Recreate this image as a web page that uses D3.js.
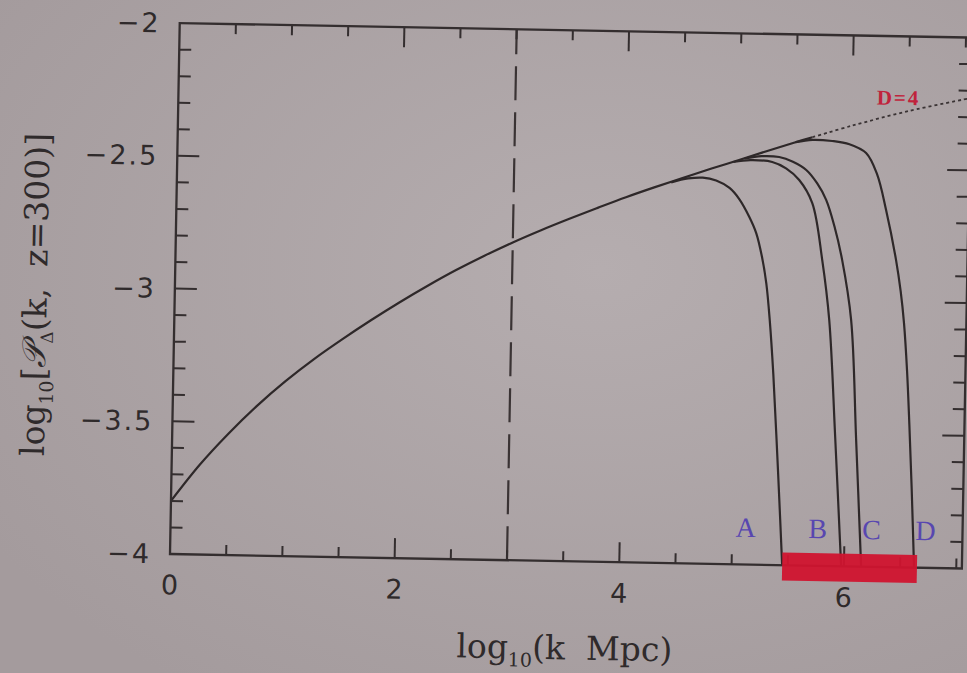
<!DOCTYPE html>
<html>
<head>
<meta charset="utf-8">
<script src="https://cdn.jsdelivr.net/npm/d3@7"></script>
<style>
  html, body { margin: 0; padding: 0; background: #aca3a5; overflow: hidden; }
  svg { display: block; }
  .frame      { fill: none; stroke: #342e2f; stroke-width: 2.3; }
  .tick       { stroke: #342e2f; stroke-width: 2; }
  .curve      { fill: none; stroke: #2e2829; stroke-width: 2.2; }
  .dotted     { fill: none; stroke: #3a3334; stroke-width: 1.8; stroke-dasharray: 3 3; }
  .dashed     { fill: none; stroke: #3a3334; stroke-width: 2.2; stroke-dasharray: 34 12; }
  .tick-label { font-family: "DejaVu Sans", sans-serif; font-size: 27px; fill: #2f2a2b; letter-spacing: 2px; }
  .axis-title { font-family: "DejaVu Serif", serif; font-size: 33px; fill: #2f2a2b; white-space: pre; }
  .letter     { font-family: "Liberation Serif", serif; font-size: 28px; fill: #5847b0; }
  .note       { font-family: "Liberation Serif", serif; font-size: 21px; font-weight: bold; fill: #c0233c; letter-spacing: 2px; }
</style>
</head>
<body>
<div id="plot"></div>
<script>
const CANVAS_WIDTH  = 967;
const CANVAS_HEIGHT = 673;

const LEFT    = 170;
const BOTTOM  = 554;
const PLOT_W  = 792;
const PLOT_H  = 531;
const TILT    = 1.05;   // the page in the photo is turned a little

const X_DOMAIN = [0, 7.05];
const Y_DOMAIN = [-4, -2];
const X_LABELS = [0, 2, 4, 6];
const Y_LABELS = [-4, -3.5, -3, -2.5, -2];

// common envelope (solid), then its continuation (dotted)
const ENV_X = [0, 0.25, 0.5, 0.75, 1.0, 1.25, 1.5, 1.75, 2.0, 2.25, 2.5, 2.75, 3.0,
               3.25, 3.5, 3.75, 4.0, 4.25, 4.5, 4.75, 5.0, 5.25, 5.5, 5.65];
const ENV_Y = [-3.800, -3.662, -3.543, -3.436, -3.341, -3.256, -3.179, -3.106, -3.037,
               -2.972, -2.911, -2.855, -2.803, -2.755, -2.710, -2.667, -2.625, -2.586,
               -2.549, -2.512, -2.477, -2.441, -2.406, -2.386];
const DOT_X = [5.65, 6.0, 6.5, 7.05];
const DOT_Y = [-2.386, -2.340, -2.281, -2.228];

// cut-off branches
const A_X = [4.40, 4.55, 4.68, 4.80, 4.92, 5.01, 5.10, 5.165, 5.22, 5.263, 5.30, 5.34, 5.377, 5.415, 5.45];
const A_Y = [-2.566, -2.550, -2.546, -2.556, -2.583, -2.625, -2.69, -2.751, -2.84, -2.94, -3.08, -3.28, -3.51, -3.76, -4.0];
const B_X = [4.95, 5.10, 5.296, 5.42, 5.539, 5.659, 5.757, 5.829, 5.90, 5.975];
const B_Y = [-2.485, -2.477, -2.482, -2.505, -2.548, -2.634, -2.848, -3.073, -3.507, -4.0];
const C_X = [5.05, 5.20, 5.357, 5.48, 5.60, 5.70, 5.782, 5.86, 5.934, 6.024, 6.088, 6.153];
const C_Y = [-2.471, -2.461, -2.463, -2.48, -2.51, -2.56, -2.621, -2.72, -2.846, -3.072, -3.523, -4.0];
const D_X = [5.50, 5.65, 5.826, 5.98, 6.13, 6.23, 6.317, 6.414, 6.46, 6.495, 6.53, 6.559, 6.59, 6.624];
const D_Y = [-2.406, -2.396, -2.399, -2.41, -2.442, -2.52, -2.655, -2.843, -2.96, -3.08, -3.26, -3.46, -3.70, -4.0];

const DASH_X = 3;

// red marker band along the axis and hand written notes
const BAND_X = [5.45, 6.65];
const BAND_Y = [-4.058, -3.952];
const LETTERS  = ["A", "B", "C", "D"];
const LETTER_X = [5.12, 5.76, 6.24, 6.72];
const LETTER_Y = -3.86;
const NOTE = "D=4";
const NOTE_X = 6.41;
const NOTE_Y = -2.232;

const zip = (xs, ys) => xs.map((x, i) => [x, ys[i]]);

var svg = d3.select("#plot")
            .append("svg")
            .attr("width", CANVAS_WIDTH)
            .attr("height", CANVAS_HEIGHT);

// paper
var defs = svg.append("defs");
var grad = defs.append("radialGradient")
               .attr("id", "paper")
               .attr("cx", "62%").attr("cy", "40%").attr("r", "75%");
grad.append("stop").attr("offset", "0%").attr("stop-color", "#b5adaf");
grad.append("stop").attr("offset", "100%").attr("stop-color", "#a49b9d");
svg.append("rect")
   .attr("width", CANVAS_WIDTH)
   .attr("height", CANVAS_HEIGHT)
   .attr("fill", "url(#paper)");

var g = svg.append("g")
           .attr("transform", `rotate(${TILT}, ${LEFT}, ${BOTTOM})`);

var xScale = d3.scaleLinear().domain(X_DOMAIN).range([LEFT, LEFT + PLOT_W]);
var yScale = d3.scaleLinear().domain(Y_DOMAIN).range([BOTTOM, BOTTOM - PLOT_H]);

defs.append("clipPath").attr("id", "clip")
    .append("rect")
    .attr("x", LEFT).attr("y", BOTTOM - PLOT_H)
    .attr("width", PLOT_W).attr("height", PLOT_H);

var line = d3.line()
             .x(d => xScale(d[0]))
             .y(d => yScale(d[1]))
             .curve(d3.curveCatmullRom.alpha(0.5));

var plot = g.append("g").attr("clip-path", "url(#clip)");

// vertical dashed marker
plot.append("line")
    .attr("class", "dashed")
    .attr("x1", xScale(DASH_X)).attr("x2", xScale(DASH_X))
    .attr("y1", yScale(Y_DOMAIN[0])).attr("y2", yScale(Y_DOMAIN[1]));

plot.append("path").attr("class", "curve").attr("d", line(zip(ENV_X, ENV_Y)));
plot.append("path").attr("class", "dotted").attr("d", line(zip(DOT_X, DOT_Y)));

[[A_X, A_Y], [B_X, B_Y], [C_X, C_Y], [D_X, D_Y]].forEach(function(b) {
    plot.append("path").attr("class", "curve").attr("d", line(zip(b[0], b[1])));
});

// frame
g.append("rect")
 .attr("class", "frame")
 .attr("x", LEFT).attr("y", BOTTOM - PLOT_H)
 .attr("width", PLOT_W).attr("height", PLOT_H);

// ticks, all pointing inwards, on all four sides
var xTicks = d3.range(0.5, X_DOMAIN[1], 0.5);
var yTicks = d3.range(1, 20).map(i => Y_DOMAIN[0] + i * 0.1);
var isMajorX = v => Math.abs(v / 2 - Math.round(v / 2)) < 1e-6;
var isMajorY = v => Math.abs(v * 2 - Math.round(v * 2)) < 1e-6;

xTicks.forEach(function(v) {
    var len = isMajorX(v) ? 20 : 10;
    g.append("line").attr("class", "tick")
     .attr("x1", xScale(v)).attr("x2", xScale(v))
     .attr("y1", yScale(Y_DOMAIN[0])).attr("y2", yScale(Y_DOMAIN[0]) - len);
    g.append("line").attr("class", "tick")
     .attr("x1", xScale(v)).attr("x2", xScale(v))
     .attr("y1", yScale(Y_DOMAIN[1])).attr("y2", yScale(Y_DOMAIN[1]) + len);
});
yTicks.forEach(function(v) {
    var len = isMajorY(v) ? 22 : 12;
    g.append("line").attr("class", "tick")
     .attr("x1", xScale(X_DOMAIN[0])).attr("x2", xScale(X_DOMAIN[0]) + len)
     .attr("y1", yScale(v)).attr("y2", yScale(v));
    g.append("line").attr("class", "tick")
     .attr("x1", xScale(X_DOMAIN[1])).attr("x2", xScale(X_DOMAIN[1]) - len)
     .attr("y1", yScale(v)).attr("y2", yScale(v));
});

// tick labels
X_LABELS.forEach(function(v) {
    g.append("text").attr("class", "tick-label")
     .attr("x", xScale(v) + 1).attr("y", BOTTOM + 31)
     .attr("text-anchor", "middle")
     .attr("dominant-baseline", "central")
     .text(v);
});
Y_LABELS.forEach(function(v) {
    g.append("text").attr("class", "tick-label")
     .attr("x", LEFT - 19).attr("y", yScale(v))
     .attr("text-anchor", "end")
     .attr("dominant-baseline", "central")
     .text(String(v).replace("-", "\u2212"));
});

// red marker band, over the axis
g.append("rect")
 .attr("x", xScale(BAND_X[0]))
 .attr("y", yScale(BAND_Y[1]))
 .attr("width", xScale(BAND_X[1]) - xScale(BAND_X[0]))
 .attr("height", yScale(BAND_Y[0]) - yScale(BAND_Y[1]))
 .attr("fill", "#d0142f")
 .attr("opacity", 0.95);

// hand written letters and note
LETTERS.forEach(function(s, i) {
    g.append("text").attr("class", "letter")
     .attr("x", xScale(LETTER_X[i])).attr("y", yScale(LETTER_Y))
     .attr("text-anchor", "middle")
     .attr("dominant-baseline", "central")
     .text(s);
});
g.append("text").attr("class", "note")
 .attr("x", xScale(NOTE_X)).attr("y", yScale(NOTE_Y))
 .attr("text-anchor", "middle")
 .attr("dominant-baseline", "central")
 .text(NOTE);

// axis titles
var xt = g.append("text").attr("class", "axis-title")
          .attr("x", LEFT + PLOT_W / 2).attr("y", BOTTOM + 98)
          .attr("text-anchor", "middle");
xt.append("tspan").text("log");
xt.append("tspan").attr("font-size", 19).attr("dy", 8).text("10");
xt.append("tspan").attr("dy", -8).text("(k  Mpc)");

var yt = g.append("text").attr("class", "axis-title")
          .attr("transform", `translate(${LEFT - 128}, ${BOTTOM - 257}) rotate(-90)`)
          .attr("text-anchor", "middle");
yt.append("tspan").text("log");
yt.append("tspan").attr("font-size", 19).attr("dy", 8).text("10");
yt.append("tspan").attr("dy", -8).text("[");
yt.append("tspan").attr("font-style", "italic").text("\uD835\uDCAB");
yt.append("tspan").attr("font-size", 17).attr("dy", 7).text("\u0394");
yt.append("tspan").attr("dy", -7).text("(k,  z=300)]");
</script>
</body>
</html>
